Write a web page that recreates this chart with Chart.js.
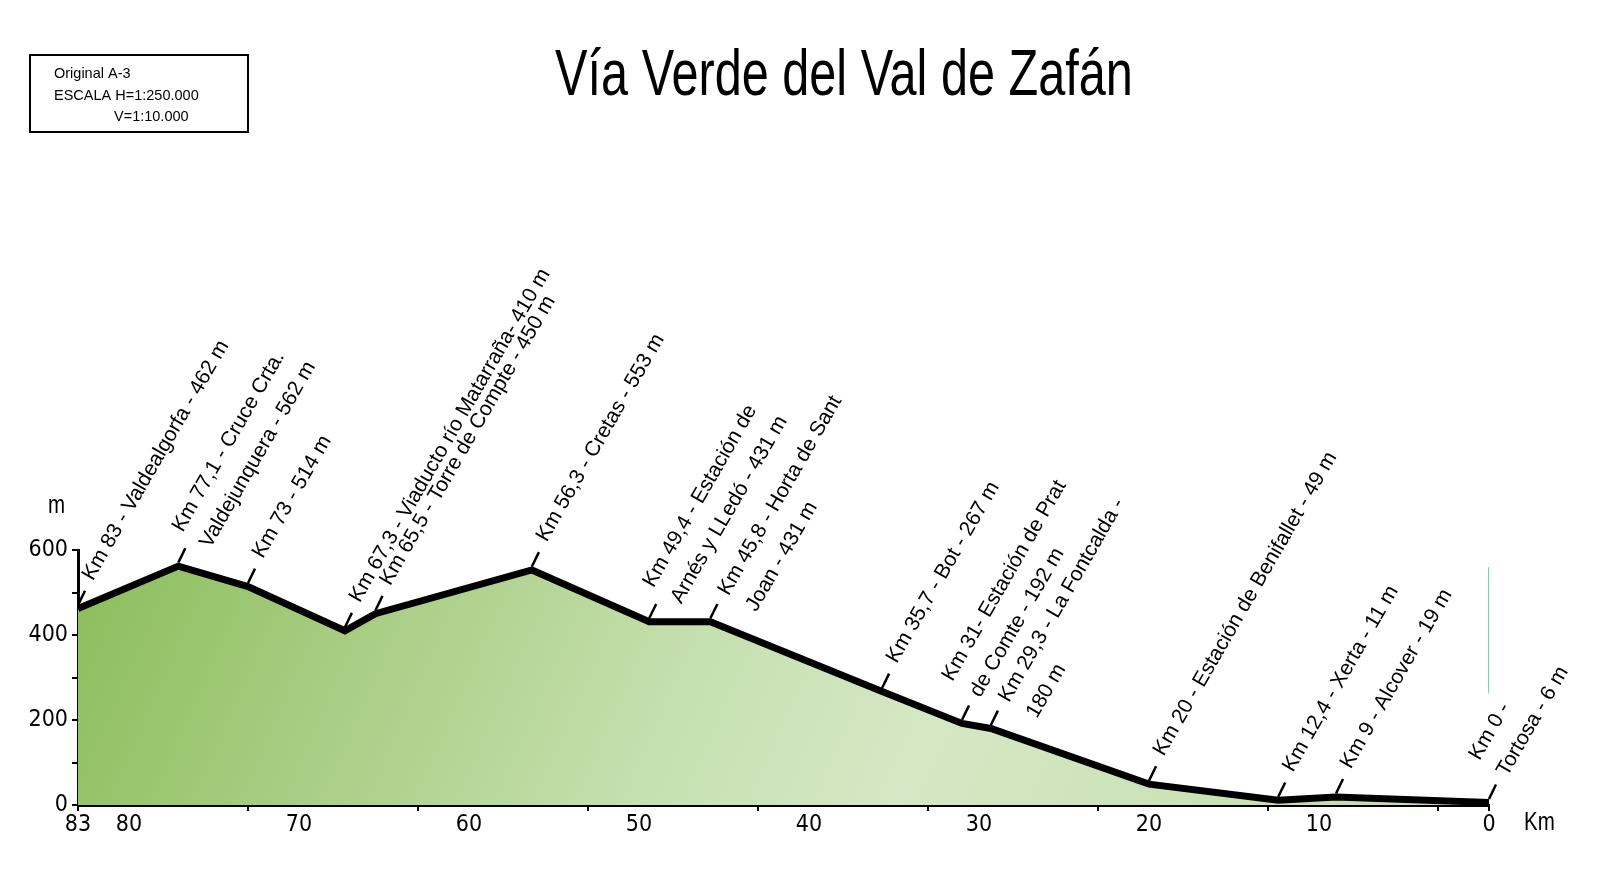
<!DOCTYPE html>
<html lang="es">
<head>
    <meta charset="UTF-8">
    <title>Vía Verde del Val de Zafán</title>
    <script src="https://cdn.jsdelivr.net/npm/chart.js"></script>
    <style>
        body {
            margin: 0;
            padding: 0;
            background: #ffffff;
        }
        #wrap {
            width: 1600px;
            height: 870px;
        }
    </style>
</head>
<body>
    <div id="wrap">
        <canvas id="perfil" width="1600" height="870"></canvas>
    </div>

    <script>
        // Puntos kilométricos y altitudes (m)
        const kms = [83, 77.1, 73, 67.3, 65.5, 56.3, 49.4, 45.8, 35.7, 31, 29.3, 20, 12.4, 9, 0];
        const elevations = [462, 562, 514, 410, 450, 553, 431, 431, 267, 192, 180, 49, 11, 19, 6];

        // Rótulos de cada punto (una entrada por línea)
        const placeLabels = [
            ['Km 83 - Valdealgorfa - 462 m'],
            ['Km 77,1 - Cruce Crta.', 'Valdejunquera - 562 m'],
            ['Km 73 - 514 m'],
            ['Km 67,3 - Viaducto río Matarraña- 410 m'],
            ['Km 65,5 - Torre de Compte - 450 m'],
            ['Km 56,3 - Cretas - 553 m'],
            ['Km 49,4 - Estación de', 'Arnés y LLedó - 431 m'],
            ['Km 45,8 - Horta de Sant', 'Joan - 431 m'],
            ['Km 35,7 - Bot - 267 m'],
            ['Km 31- Estación de Prat', 'de Comte - 192 m'],
            ['Km 29,3 - La Fontcalda -', '180 m'],
            ['Km 20 - Estación de Benifallet - 49 m'],
            ['Km 12,4 - Xerta - 11 m'],
            ['Km 9 - Alcover - 19 m'],
            ['Km 0 -', 'Tortosa - 6 m']
        ];
        // qué línea del rótulo cae sobre la marca (0 = primera, 0.5 = centrado, 1 = segunda)
        const labelAnchor = [0, 0.5, 0, 0, 0, 0, 0.5, 0, 0, 1, 0, 0, 0, 0, 1];

        // trazo verde suelto junto al Km 0
        const markerKm = [0, 0];
        const markerElev = [263, 560];

        // ejes
        const xLabelTicks = [83, 80, 70, 60, 50, 40, 30, 20, 10, 0];
        const xMinorTicks = [83, 73, 63, 53, 43, 33, 23, 13, 3, 0];
        const yMax = 600;
        const yStep = 100;
        const yLabelStep = 200;

        const scaleBox = ['Original A-3', 'ESCALA H=1:250.000', 'V=1:10.000'];
        const titleText = 'Vía Verde del Val de Zafán';

        const CONDENSED = '"DejaVu Sans Condensed", "Liberation Sans", sans-serif';
        const REGULAR = '"Liberation Sans", Arial, sans-serif';

        const profilePoints = kms.map((k, i) => ({ x: k, y: elevations[i] }));
        const markerPoints = markerKm.map((k, i) => ({ x: k, y: markerElev[i] }));

        // degradado verde del relleno
        function fillGradient(context) {
            const chart = context.chart;
            const area = chart.chartArea;
            if (!area) return '#b5d596';
            const g = chart.ctx.createLinearGradient(area.left, area.top, area.left + 1250, area.bottom + 300);
            g.addColorStop(0, '#8cbd5b');
            g.addColorStop(0.45, '#c6e0b0');
            g.addColorStop(0.62, '#d5e8c5');
            g.addColorStop(1, '#c2dca8');
            return g;
        }

        // texto estrecho (tipo Arial Narrow) escalando en horizontal
        function narrowText(ctx, text, x, y, squeeze) {
            ctx.save();
            ctx.translate(x, y);
            ctx.scale(squeeze, 1);
            ctx.fillText(text, 0, 0);
            ctx.restore();
        }

        // rótulos inclinados, título y cuadro de escala
        const profileLabels = {
            id: 'profileLabels',
            afterDatasetsDraw(chart) {
                const ctx = chart.ctx;
                const xs = chart.scales.x;
                const ys = chart.scales.y;
                const tickAng = 64 * Math.PI / 180;
                const textAng = -60 * Math.PI / 180;
                const lineH = 32;
                ctx.save();
                ctx.strokeStyle = '#000';
                ctx.fillStyle = '#000';
                ctx.lineWidth = 2.5;
                ctx.font = '21px ' + REGULAR;
                ctx.textAlign = 'left';
                ctx.textBaseline = 'alphabetic';
                kms.forEach((km, i) => {
                    const px = xs.getPixelForValue(km);
                    const py = ys.getPixelForValue(elevations[i]) - 3.5;
                    const ex = px + 16 * Math.cos(tickAng);
                    const ey = py - 16 * Math.sin(tickAng);
                    ctx.beginPath();
                    ctx.moveTo(px, py);
                    ctx.lineTo(ex, ey);
                    ctx.stroke();

                    const lines = placeLabels[i];
                    const extra = lines.length > 1 ? 4 : 0;
                    ctx.save();
                    ctx.translate(ex, ey);
                    ctx.rotate(textAng);
                    lines.forEach((t, j) => {
                        ctx.fillText(t, 12, (j - labelAnchor[i]) * lineH + 2 + extra);
                    });
                    ctx.restore();
                });
                ctx.restore();
            },
            afterDraw(chart) {
                const ctx = chart.ctx;
                ctx.save();
                ctx.fillStyle = '#000';

                // título
                ctx.font = '64px ' + REGULAR;
                ctx.textAlign = 'center';
                ctx.textBaseline = 'alphabetic';
                narrowText(ctx, titleText, 844, 95, 0.76);

                // cuadro de escala
                ctx.strokeStyle = '#000';
                ctx.lineWidth = 2;
                ctx.strokeRect(30, 55, 218, 77);
                ctx.font = '14.5px ' + REGULAR;
                ctx.textAlign = 'left';
                ctx.fillText(scaleBox[0], 54, 78);
                ctx.fillText(scaleBox[1], 54, 100);
                ctx.fillText(scaleBox[2], 114, 121);

                // unidades
                ctx.font = '25px ' + REGULAR;
                ctx.textBaseline = 'middle';
                narrowText(ctx, 'm', 48, 506, 0.82);
                narrowText(ctx, 'Km', 1524, 823, 0.82);
                ctx.restore();
            }
        };

        new Chart(document.getElementById('perfil'), {
            type: 'line',
            data: {
                datasets: [{
                    data: profilePoints,
                    borderColor: '#000',
                    borderWidth: 7,
                    backgroundColor: fillGradient,
                    fill: 'origin',
                    tension: 0,
                    pointRadius: 0
                }, {
                    data: markerPoints,
                    borderColor: '#66e3a3',
                    borderWidth: 2,
                    fill: false,
                    pointRadius: 0
                }]
            },
            options: {
                responsive: false,
                animation: false,
                layout: {
                    padding: { top: 550, right: 111, bottom: 0, left: 0 }
                },
                plugins: {
                    legend: { display: false },
                    tooltip: { enabled: false },
                    title: { display: false }
                },
                scales: {
                    x: {
                        type: 'linear',
                        reverse: true,
                        min: 0,
                        max: 83,
                        afterBuildTicks: scale => {
                            const vals = [...new Set(xLabelTicks.concat(xMinorTicks))].sort((a, b) => b - a);
                            scale.ticks = vals.map(v => ({ value: v }));
                        },
                        afterFit: scale => { scale.height = 65; },
                        border: { display: true, color: '#000', width: 3 },
                        grid: {
                            drawOnChartArea: false,
                            drawTicks: true,
                            tickLength: 6,
                            lineWidth: 2,
                            color: c => (c.tick && xMinorTicks.includes(c.tick.value)) ? '#000' : 'rgba(0,0,0,0)'
                        },
                        ticks: {
                            autoSkip: false,
                            maxRotation: 0,
                            padding: 0,
                            color: '#000',
                            font: { family: CONDENSED, size: 23 },
                            callback: v => xLabelTicks.includes(v) ? String(v) : ''
                        }
                    },
                    y: {
                        min: 0,
                        max: yMax,
                        afterFit: scale => { scale.width = 78; },
                        border: { display: true, color: '#000', width: 3 },
                        grid: {
                            drawOnChartArea: false,
                            drawTicks: true,
                            tickLength: 6,
                            lineWidth: 2,
                            color: '#000'
                        },
                        ticks: {
                            stepSize: yStep,
                            padding: 4,
                            color: '#000',
                            font: { family: CONDENSED, size: 23 },
                            callback: v => (v % yLabelStep === 0) ? String(v) : ''
                        }
                    }
                }
            },
            plugins: [profileLabels]
        });
    </script>
</body>
</html>
